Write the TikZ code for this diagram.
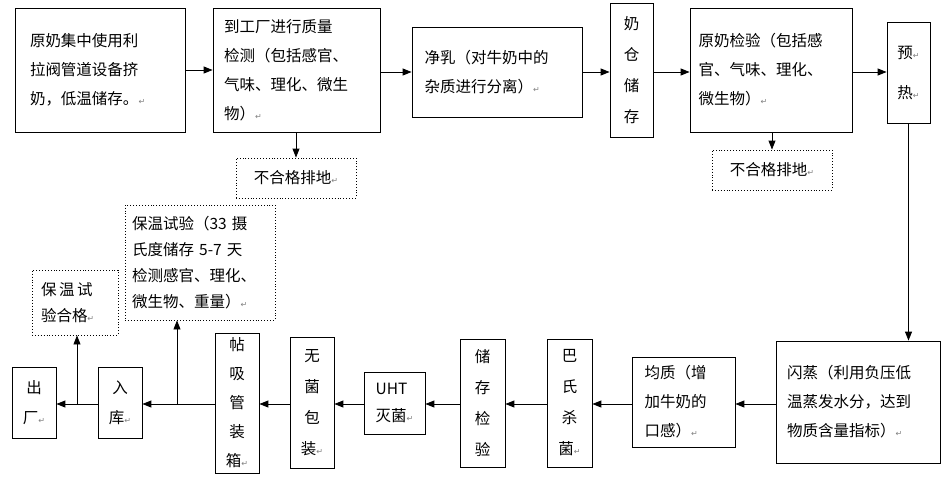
\documentclass[tikz,border=0pt]{standalone}
\usepackage{fontspec}
\setmainfont{Noto Sans CJK SC}
\newfontfamily\dvfont{DejaVu Sans}
\usetikzlibrary{arrows.meta}
\newcommand{\rt}{{\dvfont\fontsize{8}{8}\selectfont\color{gray}↵}}
\begin{document}
\begin{tikzpicture}[x=1pt,y=-1pt,
  every node/.style={font=\fontsize{15.5}{29}\selectfont, inner sep=0pt},
  box/.style={draw, line width=0.8pt, align=left},
  dbox/.style={draw, dotted, line width=0.9pt, align=left},
  arr/.style={line width=0.9pt, -{Triangle[length=9pt,width=7pt]}}]
\useasboundingbox (0,0) rectangle (948,479);
% top row
\node[box, minimum width=170, minimum height=124, text width=140] (a) at (100,70) {原奶集中使用利\\拉阀管道设备挤\\奶，低温储存。\rt};
\node[box, minimum width=167, minimum height=124, text width=145] (b) at (296.5,70) {到工厂进行质量\\检测（包括感官、\\气味、理化、微生\\物）\rt};
\node[box, minimum width=170, minimum height=90, text width=145] (c) at (497,72) {净乳（对牛奶中的\\杂质进行分离）\rt};
\node[box, minimum width=43, minimum height=134, align=center, font=\fontsize{15.5}{31}\selectfont] (d) at (631.5,70) {奶\\仓\\储\\存};
\node[box, minimum width=162, minimum height=124, text width=145] (e) at (771,70) {原奶检验（包括感\\官、气味、理化、\\微生物）\rt};
\node[box, minimum width=43, minimum height=101, align=center, font=\fontsize{15.5}{40}\selectfont] (f) at (908.5,72.5) {预\rt\\热\rt};
\node[dbox, minimum width=120, minimum height=40] (g) at (296,178) {不合格排地\rt};
\node[dbox, minimum width=120, minimum height=40] (h) at (772,170) {不合格排地\rt};
% bottom row
\node[box, minimum width=164, minimum height=122, text width=142] (i) at (858,402) {闪蒸（利用负压低\\温蒸发水分，达到\\物质含量指标）\rt};
\node[box, minimum width=103, minimum height=90, text width=78] (j) at (683.5,402) {均质（增\\加牛奶的\\口感）\rt};
\node[box, minimum width=45, minimum height=128, align=center, font=\fontsize{15.5}{31}\selectfont] (k) at (569.5,403) {巴\\氏\\杀\\菌\rt};
\node[box, minimum width=45, minimum height=128, align=center, font=\fontsize{15.5}{31}\selectfont] (l) at (482.5,403) {储\\存\\检\\验};
\node[box, minimum width=61, minimum height=62, align=left, font=\fontsize{15.5}{27}\selectfont] (m) at (394.5,403) {UHT\\灭菌\rt};
\node[box, minimum width=44, minimum height=131, align=center, font=\fontsize{15.5}{31}\selectfont] (n) at (312,402.5) {无\\菌\\包\\装\rt};
\node[box, minimum width=44, minimum height=140, align=center, font=\fontsize{15.5}{29}\selectfont] (o) at (237,403) {帖\\吸\\管\\装\\箱\rt};
\node[box, minimum width=44, minimum height=71, align=center, font=\fontsize{15.5}{30}\selectfont] (p) at (120,402.5) {入\\库\rt};
\node[box, minimum width=44, minimum height=71, align=center, font=\fontsize{15.5}{30}\selectfont] (q) at (34,402.5) {出\\厂\rt};
\node[dbox, minimum width=150, minimum height=115, text width=136, font=\fontsize{15.5}{26}\selectfont] (r) at (200,262.5) {保温试验（33 摄\\氏度储存 5-7 天\\检测感官、理化、\\微生物、重量）\rt};
\node[dbox, minimum width=86, minimum height=65, text width=68, font=\fontsize{15.5}{26}\selectfont] (s) at (75,302.5) {保\,温\,试\\验合格\rt};
% arrows top
\draw[arr] (a.east) -- (b.west);
\draw[arr] (b.east|-c.west) -- (c.west);
\draw[arr] (c.east) -- (d.west|-c.east);
\draw[arr] (d.east|-c.east) -- (e.west|-c.east);
\draw[arr] (e.east|-c.east) -- (f.west|-c.east);
\draw[arr] (b.south-|g.north) -- (g.north);
\draw[arr] (e.south-|h.north) -- (h.north);
\draw[arr] (f.south) -- (f.south|-i.north);
% arrows bottom
\draw[arr] (i.west|-0,404) -- (j.east|-0,404);
\draw[arr] (j.west|-0,404) -- (k.east|-0,404);
\draw[arr] (k.west|-0,404) -- (l.east|-0,404);
\draw[arr] (l.west|-0,404) -- (m.east|-0,404);
\draw[arr] (m.west|-0,404) -- (n.east|-0,404);
\draw[arr] (n.west|-0,404) -- (o.east|-0,404);
\draw[arr] (o.west|-0,404) -- (p.east|-0,404);
\draw[arr] (p.west|-0,404) -- (q.east|-0,404);
\coordinate (u) at (177,404);
\coordinate (v) at (77,404);
\draw[arr] (u) -- (u|-r.south);
\draw[arr] (v) -- (v|-s.south);
\end{tikzpicture}
\end{document}
